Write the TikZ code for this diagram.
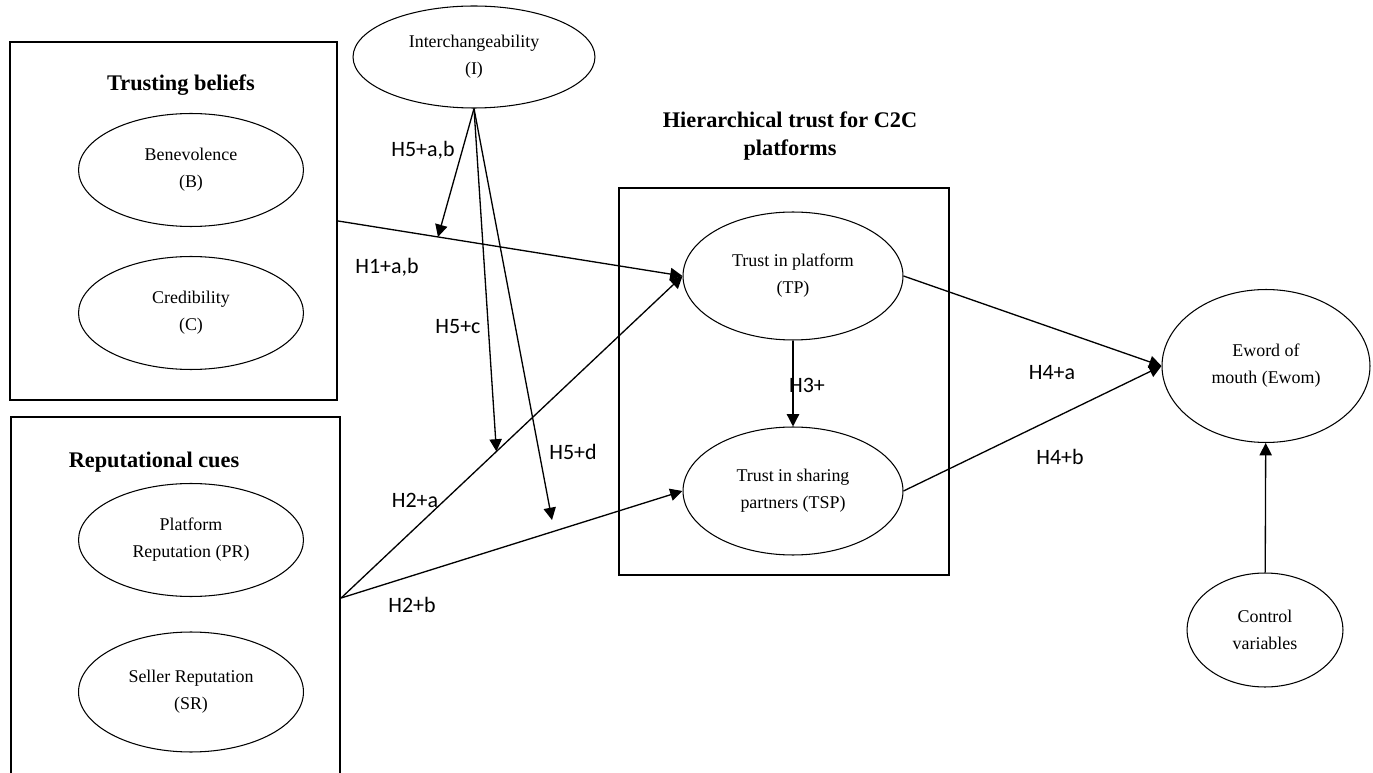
\documentclass[tikz,border=0pt]{standalone}
\usepackage{fontspec}
\setmainfont{Liberation Serif}
\newfontfamily\labelfont{Carlito}
\usetikzlibrary{shapes.geometric,arrows.meta}

\begin{document}
\begin{tikzpicture}[x=0.02cm, y=-0.02cm,
	construct/.style = {ellipse, draw, line width=0.6pt, inner sep=0pt, align=center, font=\fontsize{10.2}{15.3}\selectfont},
	groupbox/.style = {draw, line width=1.3pt, inner sep=0pt},
	grouptitle/.style = {align=center, font=\bfseries\fontsize{12.7}{15.9}\selectfont},
	hyp/.style = {-{Triangle[length=7pt,width=7pt]}, line width=0.75pt},
	hlabel/.style = {font=\labelfont\fontsize{12.5}{15}\selectfont}]
	\useasboundingbox (0,0) rectangle (1373,773);
	
	% trusting beliefs
	\node[groupbox, minimum width=6.54cm, minimum height=7.16cm] (tb) at (173.5,221) {};
	\node[grouptitle] (tbtitle) at (181,85) {Trusting beliefs};
	\node[construct, minimum width=4.5cm, minimum height=2.26cm] (B) at (191,170) {Benevolence\\(B)};
	\node[construct, minimum width=4.5cm, minimum height=2.26cm] (C) at (191,313) {Credibility\\(C)};
	
	% reputational cues
	\node[groupbox, minimum width=6.58cm, minimum height=7.24cm] (rc) at (175.5,598) {};
	\node[grouptitle] (rctitle) at (154,462) {Reputational cues};
	\node[construct, minimum width=4.5cm, minimum height=2.26cm] (PR) at (191,540) {Platform\\Reputation (PR)};
	\node[construct, minimum width=4.5cm, minimum height=2.4cm] (SR) at (191,692) {Seller Reputation\\(SR)};
	
	% hierarchical trust
	\node[groupbox, minimum width=6.6cm, minimum height=7.74cm] (ht) at (784,381.5) {};
	\node[grouptitle] (httitle) at (790,136) {Hierarchical trust for C2C\\platforms};
	\node[construct, minimum width=4.4cm, minimum height=2.56cm] (TP) at (793,276) {Trust in platform\\(TP)};
	\node[construct, minimum width=4.4cm, minimum height=2.56cm] (TSP) at (793,491) {Trust in sharing\\partners (TSP)};
	
	% moderator and outcome
	\node[construct, minimum width=4.84cm, minimum height=2.04cm] (I) at (474,57) {Interchangeability\\(I)};
	\node[construct, minimum width=4.16cm, minimum height=3.06cm] (Ewom) at (1266,366) {Eword of\\mouth (Ewom)};
	\node[construct, minimum width=3.12cm, minimum height=2.28cm] (CV) at (1265,630) {Control\\variables};
	
	% hypotheses
	\draw[hyp] (tb.east) -- coordinate[pos=0.29] (m1) (TP.west);
	\draw[hyp] (rc.east) -- coordinate[pos=0.455] (m2) (TP.west);
	\draw[hyp] (rc.east) -- (TSP.west);
	\coordinate (m3) at (552,520); % ends just above H2+b
	\draw[hyp] (I.south) -- (m1);
	\draw[hyp] (I.south) -- (m2);
	\draw[hyp] (I.south) -- (m3);
	\draw[hyp] (TP) -- (TSP);
	\draw[hyp] (TP.east) -- (Ewom.west);
	\draw[hyp] (TSP.east) -- (Ewom.west);
	\draw[hyp] (CV) -- (Ewom);
	
	\node[hlabel] (l51) at (423,150) {H5+a,b};
	\node[hlabel] (l1) at (387,267) {H1+a,b};
	\node[hlabel] (l5c) at (458,327) {H5+c};
	\node[hlabel] (l5d) at (573,452) {H5+d};
	\node[hlabel] (l2a) at (415,500) {H2+a};
	\node[hlabel] (l2b) at (412,605) {H2+b};
	\node[hlabel] (l3) at (807,385) {H3+};
	\node[hlabel] (l4a) at (1052,373) {H4+a};
	\node[hlabel] (l4b) at (1060,457) {H4+b};
	
\end{tikzpicture}
\end{document}
